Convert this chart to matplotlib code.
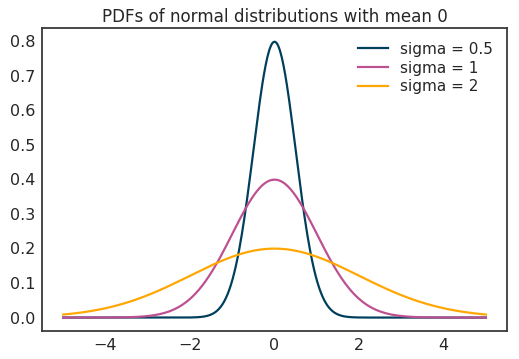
import numpy as np
import matplotlib
matplotlib.use("Agg")
import matplotlib.pyplot as plt

# chart data
sigmas = [0.5, 1, 2]
labels = ["sigma = 0.5", "sigma = 1", "sigma = 2"]
colors = ["#003f5c", "#bc5090", "#ffa600"]
x_min, x_max, n_points = -5, 5, 500
mean = 0

plt.rcParams["font.family"] = "DejaVu Sans"
plt.rcParams["text.color"] = "#262626"
plt.rcParams["axes.labelcolor"] = "#262626"
plt.rcParams["xtick.color"] = "#262626"
plt.rcParams["ytick.color"] = "#262626"

fig, ax = plt.subplots(figsize=(519 / 72, 359 / 72), dpi=72)
fig.subplots_adjust(left=0.081, right=0.977, top=0.922, bottom=0.077)

x = np.linspace(x_min, x_max, n_points)
for s, lab, c in zip(sigmas, labels, colors):
    pdf = np.exp(-0.5 * ((x - mean) / s) ** 2) / (s * np.sqrt(2 * np.pi))
    ax.plot(x, pdf, color=c, lw=2.2, label=lab)

ax.set_title("PDFs of normal distributions with mean 0", fontsize=16.7)
ax.tick_params(labelsize=16, length=0, pad=7)
for sp in ax.spines.values():
    sp.set_color("#3a3a3a")
    sp.set_linewidth(1.8)
ax.legend(frameon=False, fontsize=15.3, loc="upper right", handlelength=2.0,
          labelspacing=0.25)

fig.savefig("out.png", dpi=72)
